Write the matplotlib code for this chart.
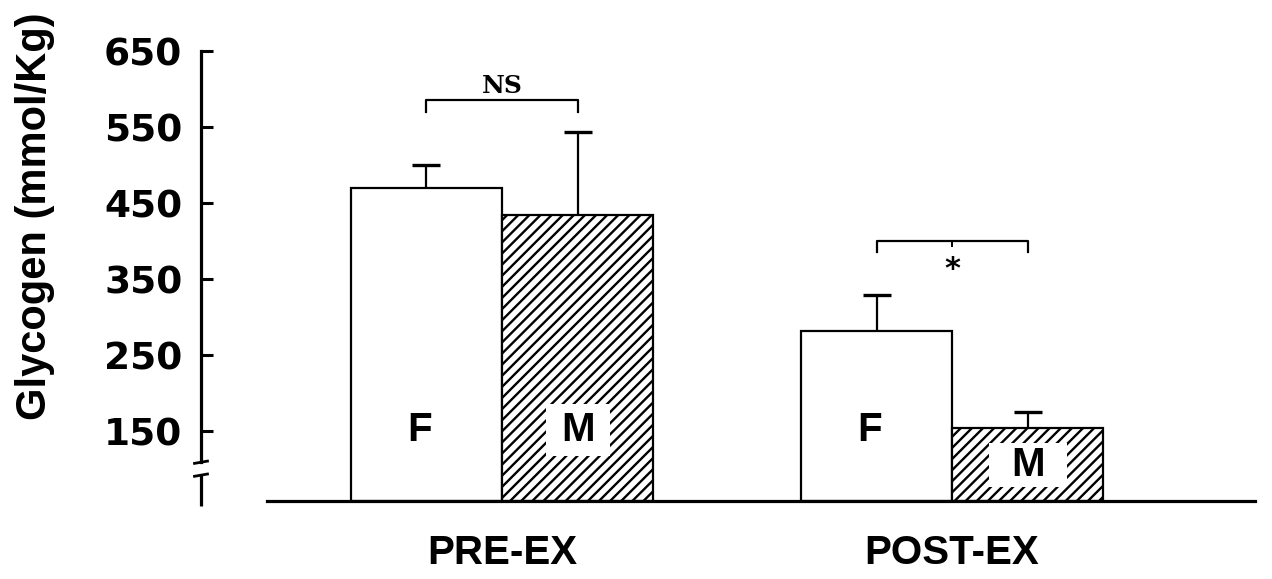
import matplotlib
matplotlib.use("Agg")
import matplotlib.pyplot as plt
from matplotlib.patches import Rectangle
import numpy as np

# ---- data ----
groups = ["PRE-EX", "POST-EX"]
female_mean = [470, 282]
female_sem = [30, 47]
male_mean = [434, 154]
male_sem = [109, 21]
ytick_values = [150, 250, 350, 450, 550, 650]
ytick_labels = ["150", "250", "350", "450", "550", "650"]
ylabel = "Glycogen (mmol/Kg)"
sig_labels = ["NS", "*"]

SANS = "Liberation Sans"
BLACK = "black"

plt.rcParams["hatch.linewidth"] = 1.7
plt.rcParams["hatch.color"] = "black"

fig = plt.figure(figsize=(12.72, 5.79), dpi=100)
ax = fig.add_axes([201/1272, 1 - 501/579, (1255 - 201)/1272, (501 - 51)/579])

ymin, ymax = 58, 650
ax.set_ylim(ymin, ymax)
ax.set_xlim(-0.669, 1.673)

x = np.arange(len(groups))
w = 0.336
xf = x - w/2
xm = x + w/2

ax.bar(xf, np.array(female_mean) - ymin, bottom=ymin, width=w, color="white",
       edgecolor=BLACK, linewidth=1.6, zorder=2)
ax.bar(xm, np.array(male_mean) - ymin, bottom=ymin, width=w, color="white",
       edgecolor=BLACK, linewidth=1.6, hatch="///", zorder=2)

for xs, means, sems in [(xf, female_mean, female_sem), (xm, male_mean, male_sem)]:
    eb = ax.errorbar(xs, means, yerr=[np.zeros(2), sems], fmt="none",
                     ecolor=BLACK, elinewidth=1.6, capsize=10, capthick=2.4,
                     zorder=3)
    caps = eb[1]
    if len(caps) == 2:
        caps[0].set_visible(False)

# F / M labels inside bars
lab_y = [151, 151]
m_lab_y = [151, 105]
box_w = [0.142, 0.173]
box_h = [68, 58]
for i in range(len(groups)):
    ax.text(xf[i] - 0.015, lab_y[i], "F", ha="center", va="center",
            fontsize=29, fontweight="bold", family=SANS, zorder=5)
    ax.add_patch(Rectangle((xm[i] - box_w[i]/2, m_lab_y[i] - box_h[i]/2),
                           box_w[i], box_h[i], facecolor="white",
                           edgecolor="none", zorder=4))
    ax.text(xm[i], m_lab_y[i], "M", ha="center", va="center",
            fontsize=29, fontweight="bold", family=SANS, zorder=5)

# significance brackets
br_y = [585, 400]
leg = 15
for i in range(len(groups)):
    ax.plot([xf[i], xf[i], xm[i], xm[i]],
            [br_y[i] - leg, br_y[i], br_y[i], br_y[i] - leg],
            color=BLACK, lw=1.6, zorder=3)
ax.plot([x[1], x[1]], [br_y[1], br_y[1] - 7], color=BLACK, lw=1.4)
ax.text(x[0], br_y[0] + 19, sig_labels[0], ha="center", va="center",
        fontsize=18, fontweight="bold", family="DejaVu Serif")
ax.text(x[1], br_y[1] - 38, sig_labels[1], ha="center", va="center",
        fontsize=22, fontweight="bold", family="DejaVu Sans")

# axes styling
for s in ["top", "right"]:
    ax.spines[s].set_visible(False)
ax.spines["left"].set_linewidth(2.3)
ax.spines["bottom"].set_linewidth(2.3)
ax.spines["left"].set_bounds(109, 650)
ax.spines["bottom"].set_bounds(-0.522, 1.673)

# axis break on y axis
x0 = -0.669
dx = 0.0144
ax.plot([x0 - dx, x0 + dx], [107.5, 110.5], color=BLACK, lw=2.0, clip_on=False)
ax.plot([x0 - dx, x0 + dx], [90.5, 93.5], color=BLACK, lw=2.0, clip_on=False)
ax.plot([x0, x0], [92, 51], color=BLACK, lw=2.3, clip_on=False,
        solid_capstyle="butt")

ax.set_yticks(ytick_values)
ax.set_yticklabels(ytick_labels, fontsize=27, fontweight="bold",
                   family="DejaVu Sans")
ax.tick_params(axis="y", direction="in", length=8.6, width=2.2, pad=13.5)

ax.set_xticks(x)
ax.set_xticklabels(groups, fontsize=29, fontweight="bold", family=SANS)
ax.tick_params(axis="x", length=0, pad=24)

fig.text(35/1272, 1 - 216/579, ylabel, rotation=90, ha="center", va="center",
         fontsize=30, fontweight="bold", family=SANS)

fig.savefig("out.png", dpi=100)
